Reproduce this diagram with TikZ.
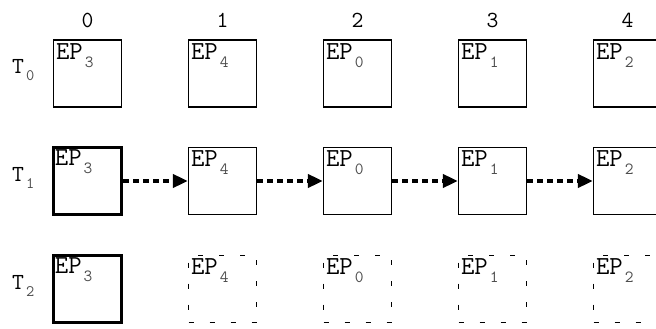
\documentclass[tikz,border=0pt]{standalone}
\usetikzlibrary{arrows.meta}

\newcommand{\eplabel}[1]{EP\hspace{2pt}\raisebox{-8pt}{\fontsize{17}{17}\selectfont\color{black!70}#1}}
\newcommand{\tlabel}[1]{T\hspace{2pt}\raisebox{-7pt}{\fontsize{16}{16}\selectfont\color{black!70}#1}}

\begin{document}
\begin{tikzpicture}[x=1pt,y=-1pt,
 box/.style={draw,minimum width=68pt,minimum height=67pt,inner sep=0pt,line width=1.2pt},
 keybox/.style={box,line width=3.5pt},
 ghost/.style={box,dash pattern=on 5pt off 16pt},
 ep/.style={anchor=base west,inner sep=0pt,font=\fontsize{26}{26}\selectfont\ttfamily},
 tname/.style={anchor=base west,inner sep=0pt,font=\fontsize{23}{23}\selectfont\ttfamily},
 pass/.style={line width=4pt,dash pattern=on 6pt off 4pt,-{Triangle[length=15pt,width=13pt]}}]
\useasboundingbox (0,0) rectangle (656,329);
% row names
\foreach \r/\y in {0/73.5,1/181,2/289}
 \node[tname] (t\r) at (12,\y) {\tlabel{\r}};
% column numbers and first row
\foreach \e [count=\c from 0] in {3,4,0,1,2} {
 \node[font=\fontsize{23}{23}\selectfont\ttfamily] (n\c) at ({87.5+135*\c},20) {\c};
 \node[box] (a\c) at ({87.5+135*\c},73.5) {};
 \node[ep] at ([shift={(3,20)}]a\c.north west) {\eplabel{\e}};
}
% second and third row
\node[keybox] (b0) at (87.5,181) {};
\node[ep] at ([shift={(3,20)}]b0.north west) {\eplabel{3}};
\node[keybox] (c0) at (87.5,289) {};
\node[ep] at ([shift={(3,20)}]c0.north west) {\eplabel{3}};
\foreach \e [count=\c from 1] in {4,0,1,2} {
 \node[box] (b\c) at ({87.5+135*\c},181) {};
 \node[ep] at ([shift={(3,20)}]b\c.north west) {\eplabel{\e}};
 \node[ghost] (c\c) at ({87.5+135*\c},289) {};
 \node[ep] at ([shift={(3,20)}]c\c.north west) {\eplabel{\e}};
}
\foreach \c [remember=\c as \p (initially 0)] in {1,...,4}
 \draw[pass] (b\p.east) -- (b\c.west);
\end{tikzpicture}
\end{document}
